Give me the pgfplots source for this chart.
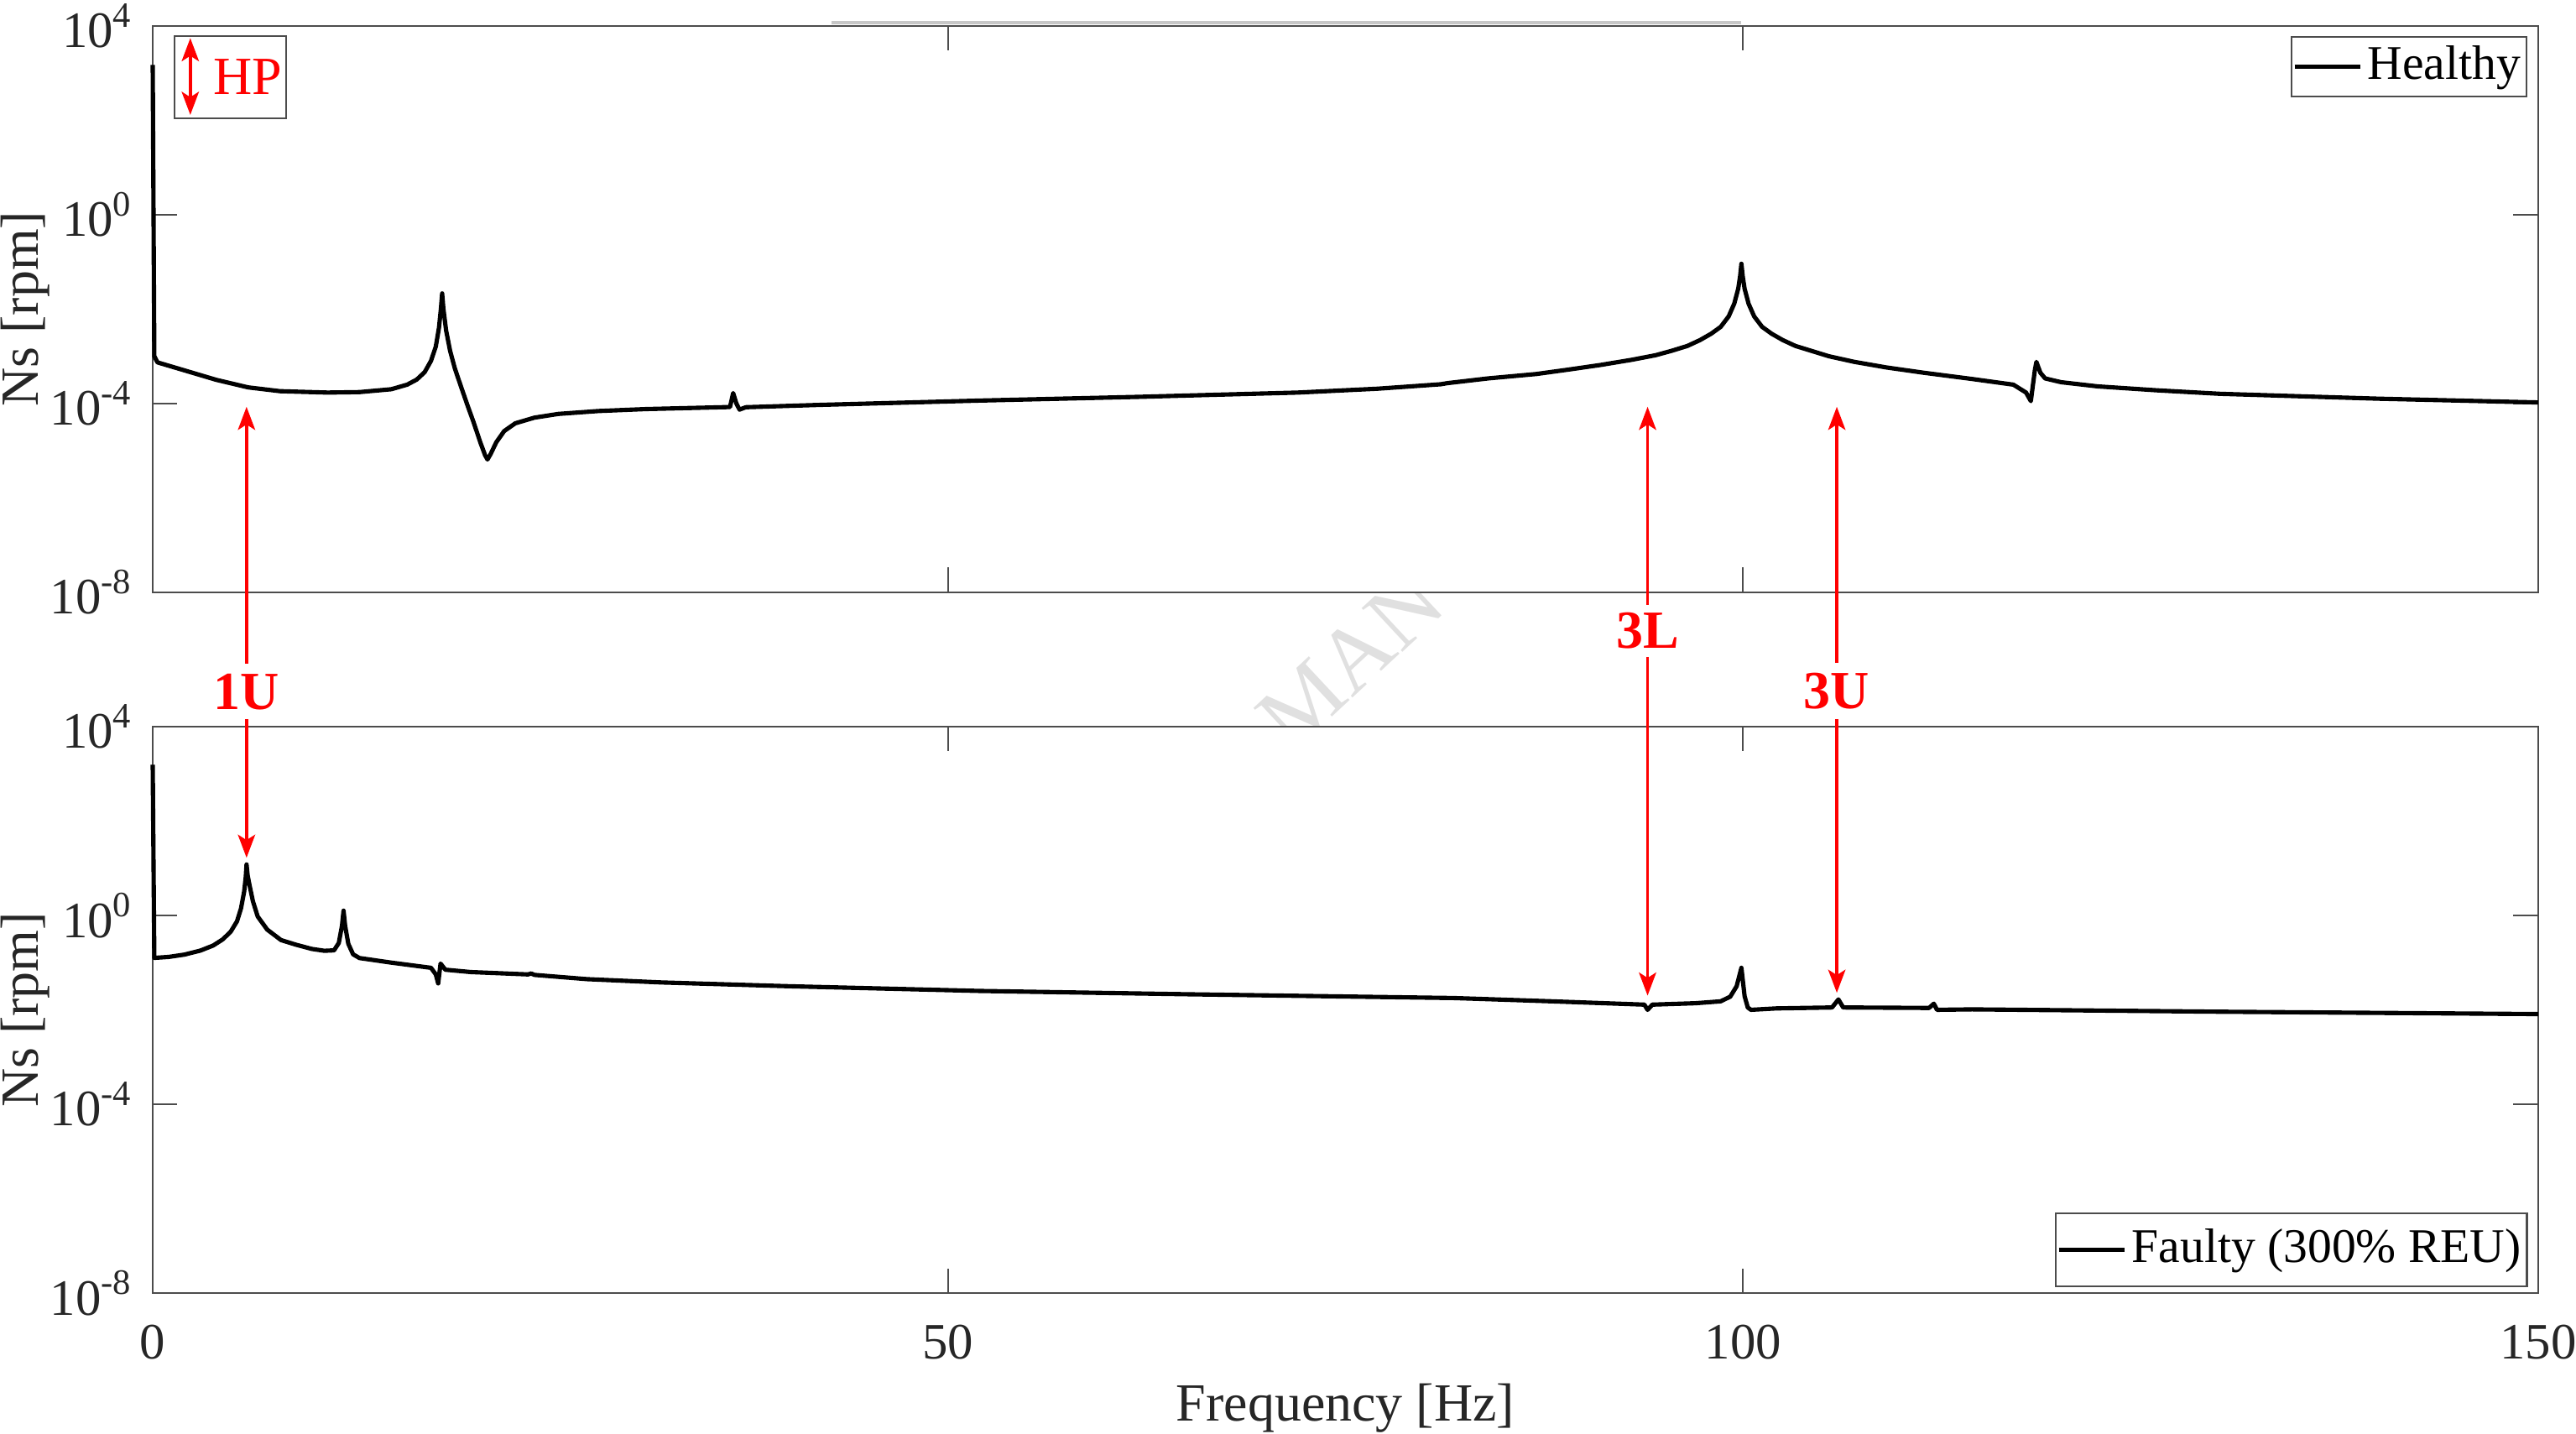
\documentclass[border=0pt]{standalone}
\usepackage{fontspec}
\setmainfont{Liberation Serif}
\usepackage{pgfplots}
\pgfplotsset{compat=1.18}
\usetikzlibrary{arrows.meta}

\begin{document}
\begin{tikzpicture}
% watermark remnant visible between the two axes
\begin{scope}
\clip (0,105.5pt) rectangle (444.2pt,130.5pt);
\node[rotate=43, text=black!12, font=\fontsize{17}{19}\selectfont] at (223pt,118pt) {MAN};
\end{scope}

% ---------------- top axis (Healthy) ----------------
\begin{axis}[
    scale only axis, width=444.2pt, height=105.5pt,
    xmin=0, xmax=150, ymode=log, ymin=1e-8, ymax=1e4,
    xtick={0,50,100,150}, ytick={1e-8,1e-4,1,1e4},
    yticklabels={10\textsuperscript{-8},10\textsuperscript{-4},10\textsuperscript{0},10\textsuperscript{4}},
    xticklabels={},
    yminorticks=false, xminorticks=false,
    tick align=inside, major tick length=4.6pt,
    axis line style={black!70,line width=0.35pt},
    major tick style={black!70,line width=0.35pt},
    tick label style={font=\fontsize{9.5}{11}\selectfont, text=black!85},
    ylabel={Ns [rpm]},
    ylabel style={font=\fontsize{10}{12}\selectfont, text=black!85, at={(axis description cs:-0.0534,0.5)}, anchor=center},
    clip=false,
    at={(0,130.5pt)},
    legend style={draw=black!70, line width=0.35pt, font=\fontsize{9}{11}\selectfont,
      inner xsep=0.2pt, inner ysep=0.5pt, nodes={inner xsep=0.9pt, inner ysep=1.2pt},
      at={(1,1)}, anchor=north east, xshift=-2pt, yshift=-1.9pt},
    legend image code/.code={\draw[#1] (0pt,0pt) -- (12.3pt,0pt);},
  ]
\addplot[black, line width=0.8pt, line join=round] coordinates {
(0,1479) (0.1,1.0e-3) (0.3,7.41e-4) (2,5.01e-4) (4,3.16e-4) (6,2.19e-4) (8,1.82e-4)
(11,1.70e-4) (13,1.74e-4) (15,2.0e-4) (16,2.5e-4) (16.6,3.2e-4) (17.1,4.6e-4)
(17.5,8.0e-4) (17.8,1.6e-3) (18.0,4.0e-3) (18.12,1.0e-2) (18.2,2.14e-2)
(18.28,1.0e-2) (18.45,3.5e-3) (18.7,1.3e-3) (19.0,5.5e-4) (19.4,2.2e-4)
(19.8,9.0e-5) (20.2,3.8e-5) (20.6,1.5e-5) (20.9,8.0e-6) (21.05,6.5e-6)
(21.25,8.5e-6) (21.6,1.5e-5) (22.1,2.6e-5) (22.8,3.8e-5) (24,5.0e-5) (25.5,6.0e-5)
(28,6.9e-5) (31,7.6e-5) (36.3,8.4e-5)
(36.5,1.66e-4) (36.7,1.0e-4) (36.9,7.41e-5) (37.3,8.32e-5) (42,9.33e-5)
(52,1.15e-4) (62,1.38e-4) (72,1.70e-4) (77,2.05e-4) (81,2.55e-4) (81.4,2.69e-4)
(84,3.4e-4) (87,4.2e-4) (89,5.2e-4) (91,6.5e-4) (93,8.4e-4) (94.5,1.05e-3)
(95.5,1.3e-3) (96.5,1.65e-3) (97.3,2.2e-3) (98.0,3.0e-3) (98.6,4.2e-3)
(99.1,7.0e-3) (99.45,1.3e-2) (99.7,2.7e-2) (99.82,5.0e-2) (99.9,9.1e-2)
(99.98,5.0e-2) (100.1,2.7e-2) (100.35,1.3e-2) (100.7,7.0e-3) (101.2,4.2e-3)
(101.8,3.0e-3) (102.5,2.2e-3) (103.3,1.65e-3) (104.3,1.3e-3) (105.4,1.0e-3)
(107,7.6e-4) (109,5.8e-4) (111.3,4.5e-4) (114.4,3.3e-4) (117.0,2.5e-4)
(117.8,1.7e-4) (118.1,1.12e-4) (118.35,5.01e-4) (118.45,7.59e-4) (118.7,4.47e-4)
(119.0,3.39e-4) (120,2.82e-4) (122.3,2.3e-4) (126,1.9e-4) (130,1.6e-4)
(140,1.26e-4) (150,1.05e-4)
};
\addlegendentry{Healthy}
% grey artefact on top border
\draw[black!22, line width=0.7pt] ([yshift=0.6pt]axis cs:42.7,1e4) -- ([yshift=0.6pt]axis cs:99.9,1e4);
% HP box
\draw[black!70, line width=0.35pt] ([xshift=4.06pt,yshift=-1.9pt]rel axis cs:0,1) rectangle ([xshift=24.8pt,yshift=-17.2pt]rel axis cs:0,1);
\draw[red, line width=0.55pt, {Stealth[length=4.3pt,width=3.2pt,inset=1pt]}-{Stealth[length=4.3pt,width=3.2pt,inset=1pt]}] ([xshift=7pt,yshift=-2.3pt]rel axis cs:0,1) -- ([xshift=7pt,yshift=-16.6pt]rel axis cs:0,1);
\node[red, anchor=base west, inner sep=0pt, font=\fontsize{10}{12}\selectfont] at ([xshift=11.1pt,yshift=-12.8pt]rel axis cs:0,1) {HP};
% upward arrows
\draw[red, line width=0.55pt, -{Stealth[length=4.3pt,width=3.2pt,inset=1pt]}] (axis cs:5.9,3.1e-10) -- (axis cs:5.9,8.5e-5);
\draw[red, line width=0.55pt, -{Stealth[length=4.3pt,width=3.2pt,inset=1pt]}] (axis cs:94.0,5.4e-9) -- (axis cs:94.0,8.5e-5);
\draw[red, line width=0.55pt, -{Stealth[length=4.3pt,width=3.2pt,inset=1pt]}] (axis cs:105.9,3.2e-10) -- (axis cs:105.9,8.5e-5);
\end{axis}

% ---------------- bottom axis (Faulty) ----------------
\begin{axis}[
    scale only axis, width=444.2pt, height=105.5pt,
    xmin=0, xmax=150, ymode=log, ymin=1e-8, ymax=1e4,
    xtick={0,50,100,150}, ytick={1e-8,1e-4,1,1e4},
    yticklabels={10\textsuperscript{-8},10\textsuperscript{-4},10\textsuperscript{0},10\textsuperscript{4}},
    yminorticks=false, xminorticks=false,
    tick align=inside, major tick length=4.6pt,
    axis line style={black!70,line width=0.35pt},
    major tick style={black!70,line width=0.35pt},
    tick label style={font=\fontsize{9.5}{11}\selectfont, text=black!85},
    xticklabel style={yshift=-2.4pt},
    /pgf/number format/assume math mode=true,
    ylabel={Ns [rpm]},
    ylabel style={font=\fontsize{10}{12}\selectfont, text=black!85, at={(axis description cs:-0.0534,0.5)}, anchor=center},
    xlabel={Frequency [Hz]},
    xlabel style={font=\fontsize{10}{12}\selectfont, text=black!85, at={(axis description cs:0.5,0)}, anchor=base, yshift=-23.75pt},
    clip=false,
    at={(0,0)},
    legend style={draw=black!70, line width=0.35pt, font=\fontsize{9}{11}\selectfont,
      inner xsep=0.2pt, inner ysep=0.5pt, nodes={inner xsep=0.9pt, inner ysep=2.4pt},
      at={(1,0)}, anchor=south east, xshift=-1.9pt, yshift=1.1pt},
    legend image code/.code={\draw[#1] (0pt,0pt) -- (12.3pt,0pt);},
  ]
\addplot[black, line width=0.8pt, line join=round] coordinates {
(0,1549) (0.1,0.1259) (1,0.132) (2,0.148) (3,0.18) (3.8,0.23) (4.4,0.31) (4.9,0.45)
(5.3,0.75) (5.55,1.4) (5.75,3.2) (5.85,6.5) (5.9,12.0) (5.97,7.0) (6.08,4.5)
(6.3,2.0) (6.6,0.95) (7.2,0.5) (8.07,0.30) (9,0.24) (10,0.195) (10.8,0.178)
(11.4,0.182) (11.7,0.26) (11.9,0.6) (12.0,1.26) (12.1,0.6) (12.3,0.25) (12.6,0.15)
(13.0,0.125) (15,0.1) (17.5,0.0776)
(17.8,0.05623) (17.95,0.03631) (18.1,0.09550) (18.4,0.07079) (20,0.06310)
(23.6,0.05623) (23.8,0.05888) (24.0,0.05495) (27.3,0.04467) (32,0.03802) (40,0.03162)
(52,0.02512) (65,0.02138) (81.8,0.01778) (88,0.01514) (93.8,0.01288) (94.0,0.01)
(94.3,0.01288) (97,0.01380) (98.6,0.01514) (99.2,0.01905) (99.6,0.03162)
(99.9,0.07762) (100.1,0.01950) (100.3,0.01122) (100.5,0.01) (102.1,0.01072)
(105.6,0.01122) (106.0,0.01660) (106.3,0.01122) (111.7,0.01096) (112.0,0.01349)
(112.2,0.01) (114.4,0.01023) (130,0.00912) (150,0.00813)
};
\addlegendentry{Faulty (300\% REU)}
% downward arrows and labels
\draw[red, line width=0.55pt, -{Stealth[length=4.3pt,width=3.2pt,inset=1pt]}] (axis cs:5.9,1.45e4) -- (axis cs:5.9,16.6);
\draw[red, line width=0.55pt, -{Stealth[length=4.3pt,width=3.2pt,inset=1pt]}] (axis cs:94.0,3.0e5) -- (axis cs:94.0,0.02);
\draw[red, line width=0.55pt, -{Stealth[length=4.3pt,width=3.2pt,inset=1pt]}] (axis cs:105.9,1.45e4) -- (axis cs:105.9,0.0229);
\node[red, font=\fontsize{10}{12}\selectfont\bfseries, inner sep=0pt] at (axis cs:5.9,5.37e4) {1U};
\node[red, font=\fontsize{10}{12}\selectfont\bfseries, inner sep=0pt] at (axis cs:94.0,1.07e6) {3L};
\node[red, font=\fontsize{10}{12}\selectfont\bfseries, inner sep=0pt] at (axis cs:105.9,5.6e4) {3U};
\end{axis}

\pgfresetboundingbox
\path[use as bounding box] (-28.44pt,-26.1pt) rectangle (451.25pt,240.8pt);
\end{tikzpicture}
\end{document}
